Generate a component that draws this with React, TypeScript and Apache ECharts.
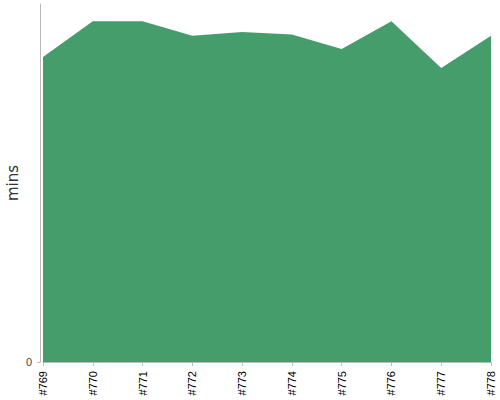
import { useRef, useEffect } from 'react';
import * as echarts from 'echarts';

const builds = ['#769', '#770', '#771', '#772', '#773', '#774', '#775', '#776', '#777', '#778'];
const minutes = [85.2, 95.2, 95.2, 91.1, 92.2, 91.5, 87.4, 95.2, 82.1, 91.1];
const yTicks = [0];

export default function App() {
  const ref = useRef<HTMLDivElement>(null);

  useEffect(() => {
    document.body.style.margin = '0';
    if (!ref.current) return;
    const chart = echarts.init(ref.current, undefined, { renderer: 'svg' });
    chart.setOption({
      animation: false,
      grid: { left: 43, right: 9, top: 4, bottom: 38, containLabel: false, outerBoundsMode: 'none' },
      xAxis: {
        type: 'category',
        data: builds,
        boundaryGap: false,
        axisLine: { lineStyle: { color: '#bbb', width: 1 } },
        axisTick: { show: true, length: 4, alignWithLabel: true, lineStyle: { color: '#bbb' } },
        axisLabel: { rotate: 90, color: '#000', fontSize: 11, fontFamily: 'Liberation Sans', margin: 9, interval: 0 },
        splitLine: { show: false },
      },
      yAxis: {
        type: 'value',
        min: 0,
        max: 100,
        offset: 3,
        name: 'mins',
        nameLocation: 'middle',
        nameGap: 20,
        nameMoveOverlap: false,
        nameTextStyle: { color: '#333', fontSize: 15, fontFamily: 'DejaVu Sans' },
        axisLine: { show: true, lineStyle: { color: '#bbb', width: 1 } },
        axisTick: { show: true, length: 3, customValues: yTicks, lineStyle: { color: '#bbb' } },
        axisLabel: { color: '#444', fontSize: 11, fontFamily: 'Liberation Sans', customValues: yTicks, margin: 8 },
        splitLine: { show: false },
      },
      series: [
        {
          type: 'line',
          data: minutes,
          symbol: 'none',
          lineStyle: { width: 0 },
          areaStyle: { color: '#459d6c', opacity: 1 },
        },
      ],
    });
    return () => chart.dispose();
  }, []);

  return <div ref={ref} style={{ width: 500, height: 400 }} />;
}
